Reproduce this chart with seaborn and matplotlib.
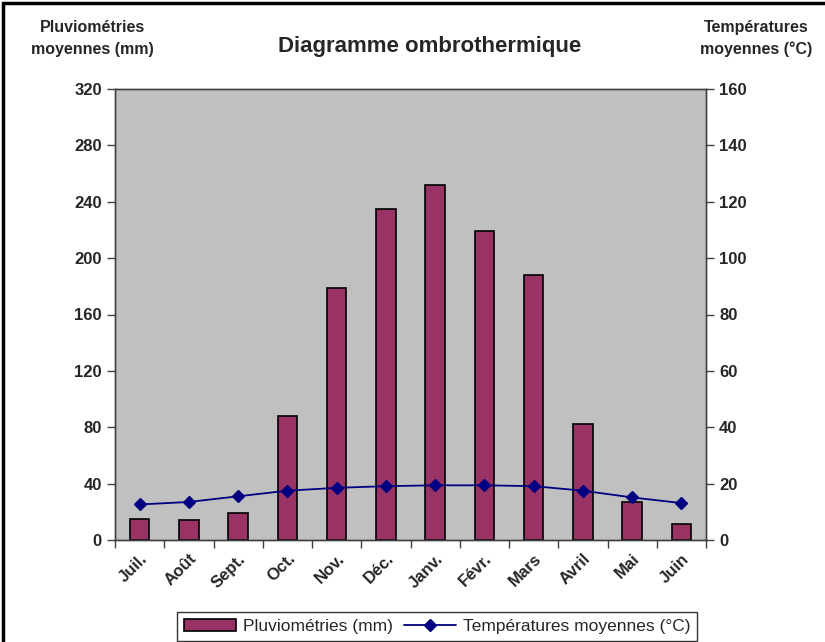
import numpy as np
import pandas as pd
import matplotlib
matplotlib.use("Agg")
import matplotlib.pyplot as plt
from matplotlib.patches import Patch, Rectangle
from matplotlib.lines import Line2D
import seaborn as sns

months = ["Juil.", "Août", "Sept.", "Oct.", "Nov.", "Déc.", "Janv.", "Févr.", "Mars", "Avril", "Mai", "Juin"]
rain = [15, 14, 19, 88, 179, 235, 252, 219, 188, 82, 27, 11]
temp = [12.6, 13.5, 15.5, 17.5, 18.5, 19.1, 19.4, 19.4, 19.1, 17.5, 15.1, 13.1]

df = pd.DataFrame({"mois": months, "pluie": rain, "temp": temp})

sns.set_style("white")
plt.rcParams["font.family"] = ["Liberation Sans", "DejaVu Sans"]

bar_col = "#993366"
line_col = "#000080"

fig = plt.figure(figsize=(8.25, 6.42), dpi=100)
ax = fig.add_axes([115 / 825, 102 / 642, 591 / 825, 451 / 642])
ax.set_facecolor("#C0C0C0")

sns.barplot(data=df, x="mois", y="pluie", order=months, color=bar_col,
            width=0.4, edgecolor="black", linewidth=1.2, saturation=1, ax=ax)

ax2 = ax.twinx()
sns.pointplot(data=df, x="mois", y="temp", order=months, color=line_col,
              markers="D", markersize=6, linewidth=1.3, ax=ax2)

ax.set_xlim(-0.5, 11.5)
ax.set_ylim(0, 320)
ax2.set_ylim(0, 160)
ax.set_yticks(np.arange(0, 321, 40))
ax2.set_yticks(np.arange(0, 161, 20))

# excel style: labels at centers, ticks at boundaries
ax.set_xticks(np.arange(12))
ax.set_xticklabels(months, rotation=45, ha="right", rotation_mode="anchor",
                   fontsize=12, fontweight="bold")
ax.set_xticks(np.arange(-0.5, 12, 1), minor=True)
ax.tick_params(axis="x", which="major", length=0, pad=8)
ax.tick_params(axis="x", which="minor", length=6, width=1, color="#404040", direction="out", bottom=True)
ax.tick_params(axis="y", length=6, width=1, color="#404040", direction="out", left=True,
               labelsize=12)
ax2.tick_params(axis="y", length=6, width=1, color="#404040", direction="out", right=True,
                labelsize=12)
for lab in ax.get_yticklabels() + ax2.get_yticklabels():
    lab.set_fontweight("bold")

ax.set_xlabel("")
ax.set_ylabel("")
ax2.set_ylabel("")
ax2.set_xlabel("")
for a in (ax, ax2):
    for s in a.spines.values():
        s.set_visible(True)
        s.set_color("#404040")
        s.set_linewidth(1)

fig.text(0.521, 0.927, "Diagramme ombrothermique", ha="center", va="center",
         fontsize=16, fontweight="bold")
fig.text(0.112, 0.94, "Pluviométries\nmoyennes (mm)", ha="center", va="center",
         fontsize=11.5, fontweight="bold", linespacing=1.55)
fig.text(0.917, 0.94, "Températures\nmoyennes (°C)", ha="center", va="center",
         fontsize=11.5, fontweight="bold", linespacing=1.55)

handles = [Patch(facecolor=bar_col, edgecolor="black", linewidth=1.2),
           Line2D([0], [0], color=line_col, marker="D", markersize=6, linewidth=1.3)]
leg = fig.legend(handles, ["Pluviométries (mm)", "Températures moyennes (°C)"],
                 loc="lower center", bbox_to_anchor=(0.53, -0.012), ncol=2,
                 fontsize=12.5, frameon=True, fancybox=False, edgecolor="black",
                 handlelength=3, columnspacing=0.6, handletextpad=0.4,
                 borderpad=0.4)
leg.get_frame().set_linewidth(1)

fig.patches.append(Rectangle((0.004, -0.1), 1.1, 1.095, transform=fig.transFigure,
                             fill=False, edgecolor="black", linewidth=2.5))

fig.savefig("out.png", dpi=100)
